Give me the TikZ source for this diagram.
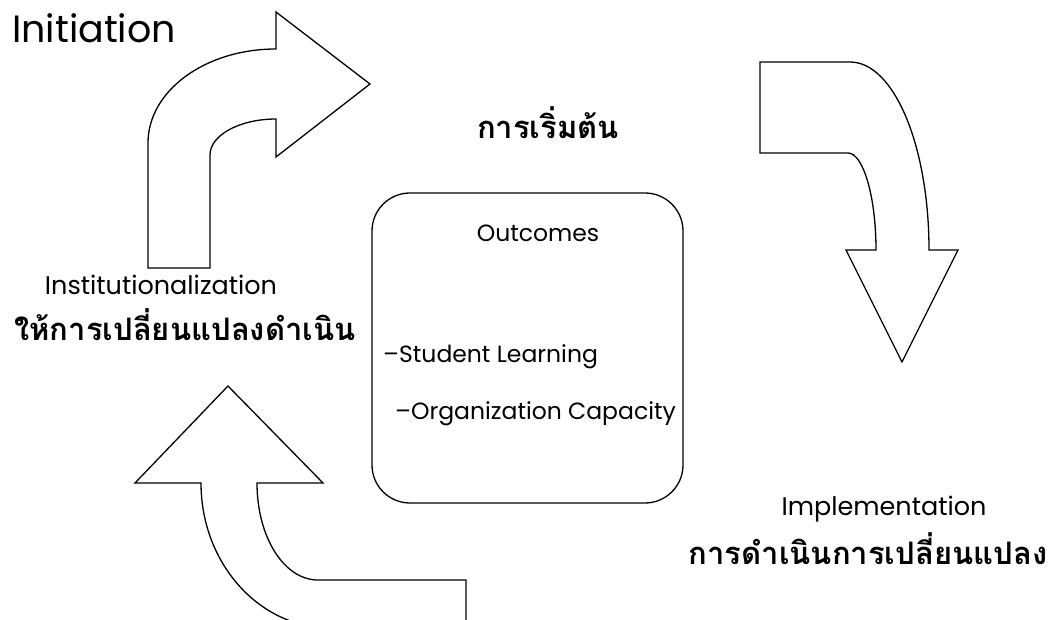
\documentclass[tikz,border=0pt]{standalone}
\usepackage{fontspec}
\setmainfont{Poppins}
\newfontfamily\thaifont[Script=Thai]{Loma}
\tikzset{
  shape outline/.style={draw=black, line width=1.3pt, fill=white, line join=miter},
  entext/.style={font=\fontsize{25.5}{30}\selectfont, inner sep=0pt},
  thtext/.style={font=\thaifont\bfseries\fontsize{31}{36}\selectfont, inner sep=0pt},
  boxtext/.style={font=\fontsize{23.5}{28}\selectfont, inner sep=0pt},
}
\begin{document}
\begin{tikzpicture}[x=1pt,y=-1pt]
\useasboundingbox (0,0) rectangle (1053,620);
\clip (0,0) rectangle (1053,620);
\fill[white] (0,0) rectangle (1053,620);

% top arrow (Initiation)
\draw[shape outline] (148,268) -- (148,143) .. controls (148,91) and (205,49) .. (276,49)
  -- (276,12) -- (370,84) -- (276,157) -- (276,119)
  .. controls (240,119) and (210,135) .. (210,155) -- (210,268) -- cycle;

% right arrow (Implementation)
\draw[shape outline] (760,62) -- (850,62) .. controls (894,62) and (929,146) .. (929,250)
  -- (958,250) -- (902,362) -- (846,250) -- (876,250)
  .. controls (876,196) and (863,153) .. (848,153) -- (760,153) -- cycle;

% bottom arrow (Institutionalization)
\draw[shape outline] (228,386) -- (323,483) -- (257,483)
  .. controls (257,537) and (284,580) .. (318,580) -- (466,580) -- (466,628) -- (330,628)
  .. controls (259,628) and (201,563) .. (201,483) -- (135,483) -- cycle;

% outcomes box
\node[draw=black, line width=1.3pt, rounded corners=38pt, minimum width=311pt, minimum height=310pt, inner sep=0pt] (box) at (527.5,348) {};
\node[boxtext, anchor=base] (out) at (538,242) {Outcomes};
\node[boxtext, anchor=base west] (stu) at (383,363) {–Student Learning};
\node[boxtext, anchor=base west] (org) at (395,420) {–Organization Capacity};

% labels
\node[font=\fontsize{38}{44}\selectfont, inner sep=0pt, anchor=base west] (init) at (12,43) {Initiation};
\node[thtext] (initth) at (548,123) {การเริ่มต้น};
\node[entext, anchor=base] (inst) at (161,295) {Institutionalization};
\node[thtext] (instth) at (185,325) {ให้การเปลี่ยนแปลงดำเนิน};
\node[entext, anchor=base] (impl) at (884,515) {Implementation};
\node[thtext] (implth) at (868,549) {การดำเนินการเปลี่ยนแปลง};
\end{tikzpicture}
\end{document}
